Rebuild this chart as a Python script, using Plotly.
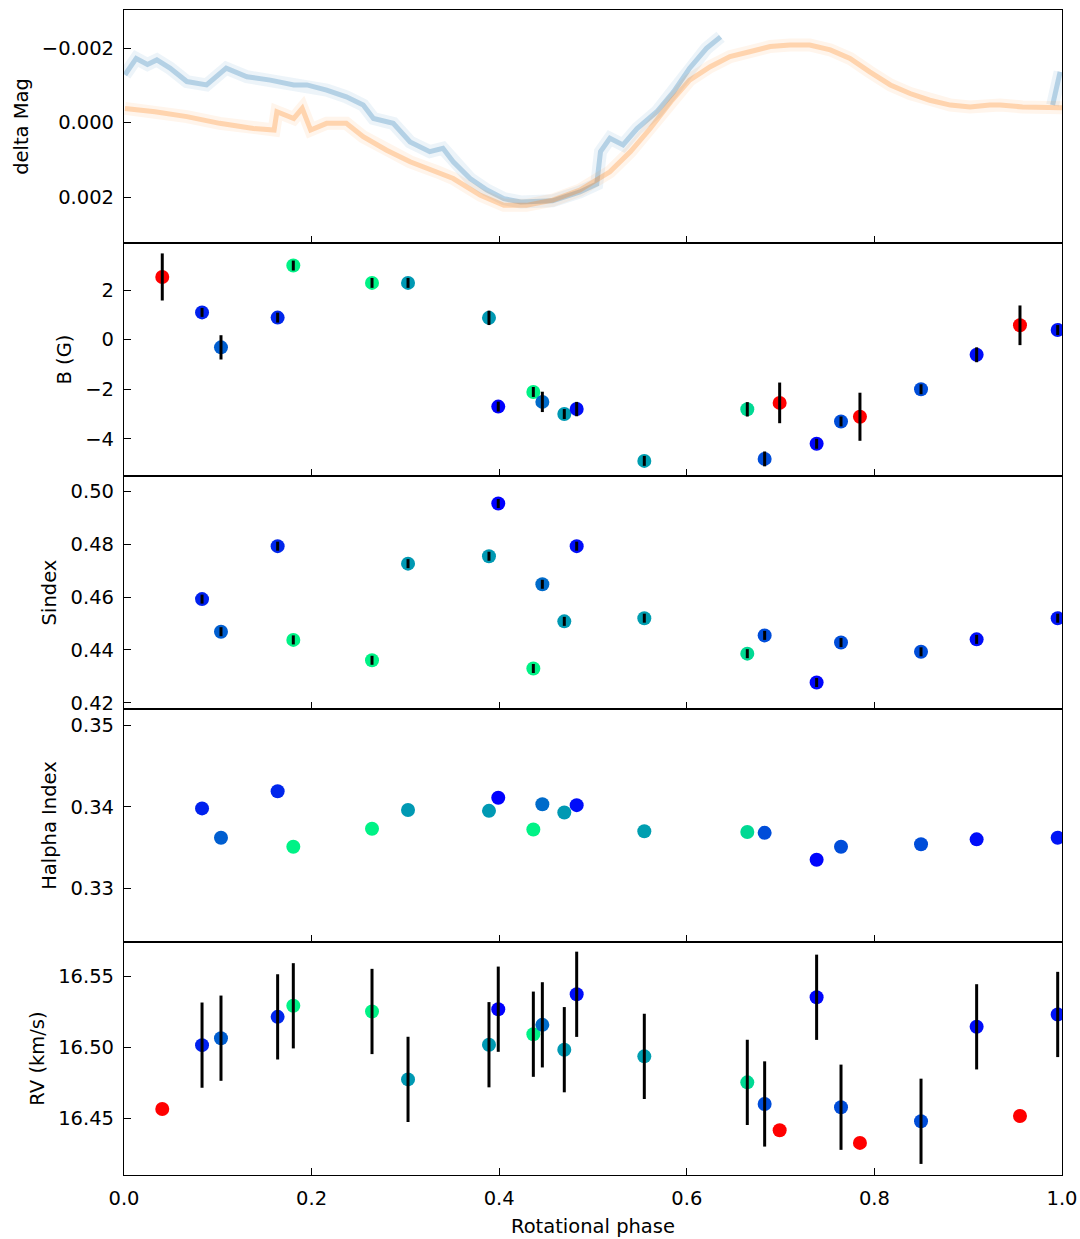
import plotly.graph_objects as go
from plotly.subplots import make_subplots

# ---------------- light curves (phase, delta mag) ----------------
lc_blue_phase = [0.001, 0.013, 0.025, 0.035, 0.049, 0.067, 0.088, 0.109, 0.131, 0.156,
                 0.181, 0.195, 0.216, 0.237, 0.255, 0.266, 0.287, 0.305, 0.326, 0.340,
                 0.351, 0.369, 0.387, 0.405, 0.423, 0.457, 0.486, 0.504, 0.508, 0.518,
                 0.532, 0.547, 0.568, 0.586, 0.603, 0.621, 0.636, None, 0.990, 0.998]
lc_blue_mag = [-0.00128, -0.00172, -0.00156, -0.00168, -0.00146, -0.00110, -0.00101, -0.00146, -0.00123, -0.00114,
               -0.00101, -0.00101, -0.00087, -0.00069, -0.00047, -0.00011, 0.00002, 0.00052, 0.00078, 0.00069,
               0.00105, 0.00150, 0.00181, 0.00204, 0.00213, 0.00210, 0.00186, 0.00165, 0.00078, 0.00042,
               0.00060, 0.00016, -0.00029, -0.00083, -0.00146, -0.00199, -0.00230, None, -0.00047, -0.00136]

lc_orange_phase = [0.001, 0.033, 0.067, 0.102, 0.138, 0.160, 0.163, 0.181, 0.190, 0.199,
                   0.216, 0.237, 0.255, 0.280, 0.305, 0.334, 0.351, 0.380, 0.405, 0.429,
                   0.457, 0.486, 0.497, 0.518, 0.540, 0.561, 0.583, 0.603, 0.625, 0.646,
                   0.667, 0.689, 0.710, 0.731, 0.753, 0.774, 0.795, 0.817, 0.838, 0.859,
                   0.881, 0.902, 0.923, 0.934, 0.958, 0.994, 1.000]
lc_orange_mag = [-0.00038, -0.00029, -0.00016, 0.00002, 0.00016, 0.00020, -0.00029, -0.00011, -0.00038, 0.00020,
                 0.00002, 0.00002, 0.00038, 0.00074, 0.00105, 0.00132, 0.00150, 0.00195, 0.00222, 0.00222,
                 0.00208, 0.00181, 0.00165, 0.00132, 0.00078, 0.00016, -0.00056, -0.00114, -0.00150, -0.00177,
                 -0.00190, -0.00204, -0.00208, -0.00208, -0.00195, -0.00172, -0.00136, -0.00101, -0.00078, -0.00060,
                 -0.00047, -0.00042, -0.00047, -0.00047, -0.00042, -0.00042, -0.00040]

# ---------------- spectroscopic epochs ----------------
phase = [0.0408, 0.0832, 0.1034, 0.1638, 0.1805, 0.2644, 0.3028, 0.3891, 0.3990, 0.4364,
         0.4460, 0.4694, 0.4826, 0.5547, 0.6645, 0.6830, 0.6990, 0.7384, 0.7644, 0.7846,
         0.8497, 0.9090, 0.9552, 0.9954]
flagged = [1, 0, 0, 0, 0, 0, 0, 0, 0, 0,
           0, 0, 0, 0, 0, 0, 1, 0, 0, 1,
           0, 0, 1, 0]
cval = [0.0, 0.13, 0.37, 0.15, 0.95, 0.95, 0.60, 0.60, 0.0, 0.95,
        0.42, 0.60, 0.05, 0.62, 0.85, 0.30, 0.0, 0.02, 0.30, 0.0,
        0.30, 0.05, 0.0, 0.08]

B = [2.53, 1.10, -0.31, 0.89, 2.99, 2.29, 2.29, 0.88, -2.70, -2.11,
     -2.51, -3.00, -2.80, -4.89, -2.81, -4.81, -2.55, -4.20, -3.30, -3.11,
     -2.00, -0.61, 0.58, 0.39]
B_err = [0.95, 0.18, 0.49, 0.20, 0.20, 0.20, 0.20, 0.29, 0.20, 0.20,
         0.41, 0.20, 0.29, 0.20, 0.29, 0.30, 0.82, 0.20, 0.20, 0.97,
         0.20, 0.30, 0.80, 0.20]

sindex = [None, 0.4592, 0.4469, 0.4792, 0.4438, 0.4361, 0.4726, 0.4754, 0.4953, 0.4330,
          0.4648, 0.4508, 0.4792, 0.4520, 0.4386, 0.4455, None, 0.4277, 0.4428, None,
          0.4393, 0.4440, None, 0.4520]
sindex_err = [0.0017] * 24

halpha = [None, 0.3398, 0.3362, 0.3419, 0.3351, 0.3373, 0.3396, 0.3395, 0.3411, 0.3372,
          0.3403, 0.3393, 0.3402, 0.3370, 0.3369, 0.3368, None, 0.3335, 0.3351, None,
          0.3354, 0.3360, None, 0.3362]

rv = [16.4565, 16.5014, 16.5063, 16.5213, 16.5291, 16.5251, 16.4773, 16.5017, 16.5267, 16.5091,
      16.5157, 16.4982, 16.5372, 16.4935, 16.4752, 16.4600, 16.4415, 16.5351, 16.4577, 16.4326,
      16.4478, 16.5143, 16.4515, 16.5230]
rv_err = [0.0, 0.03, 0.03, 0.03, 0.03, 0.03, 0.03, 0.03, 0.03, 0.03,
          0.03, 0.03, 0.03, 0.03, 0.03, 0.03, 0.0, 0.03, 0.03, 0.0,
          0.03, 0.03, 0.0, 0.03]

y_titles = ["delta Mag", "B (G)", "Sindex", "Halpha Index", "RV (km/s)"]
x_title = "Rotational phase"

WINTER = [[0.0, "rgb(0,0,255)"], [1.0, "rgb(0,255,128)"]]
FONT = "DejaVu Sans"
FS = 19.5

fig = make_subplots(rows=5, cols=1, shared_xaxes=True, vertical_spacing=0)

# light curve panel: dense translucent bands
for px, py, col in [(lc_blue_phase, lc_blue_mag, "31,119,180"),
                    (lc_orange_phase, lc_orange_mag, "255,127,14")]:
    fig.add_trace(go.Scatter(x=px, y=py, mode="lines", connectgaps=False,
                             line=dict(color=f"rgba({col},0.08)", width=13),
                             hoverinfo="skip", showlegend=False), row=1, col=1)
    fig.add_trace(go.Scatter(x=px, y=py, mode="lines", connectgaps=False,
                             line=dict(color=f"rgba({col},0.28)", width=5),
                             hoverinfo="skip", showlegend=False), row=1, col=1)

def split(vals):
    good = [v if not f else None for v, f in zip(vals, flagged)]
    bad = [v if f else None for v, f in zip(vals, flagged)]
    return good, bad

panels = [(B, B_err), (sindex, sindex_err), (halpha, None), (rv, rv_err)]
for i, (vals, errs) in enumerate(panels):
    row = i + 2
    good, bad = split(vals)
    fig.add_trace(go.Scatter(x=phase, y=good, mode="markers",
                             marker=dict(size=14, color=cval, colorscale=WINTER, cmin=0, cmax=1,
                                         line=dict(width=0)),
                             showlegend=False), row=row, col=1)
    fig.add_trace(go.Scatter(x=phase, y=bad, mode="markers",
                             marker=dict(size=14, color="#ff0000", line=dict(width=0)),
                             showlegend=False), row=row, col=1)
    if errs is not None:
        fig.add_trace(go.Scatter(x=phase, y=vals, mode="markers",
                                 marker=dict(size=1, color="rgba(0,0,0,0)"),
                                 error_y=dict(type="data", array=errs, visible=True,
                                              color="black", thickness=3, width=0),
                                 hoverinfo="skip", showlegend=False), row=row, col=1)

ranges = [[0.00323, -0.00302], [-5.5, 3.9], [0.4177, 0.5057], [0.3234, 0.352], [16.41, 16.574]]
dticks = [0.002, 2, 0.02, 0.01, 0.05]
fmts = [".3f", "d", ".2f", ".2f", ".2f"]

axis_common = dict(showline=True, linecolor="black", linewidth=1.2, mirror=True,
                   ticks="inside", ticklen=7, tickwidth=1.2, tickcolor="black",
                   showgrid=False, zeroline=False, ticklabelstandoff=5, automargin=False,
                   tickfont=dict(family=FONT, size=FS, color="black"))

for i in range(5):
    top = 1 - i / 5
    bot = 1 - (i + 1) / 5
    fig.update_yaxes(range=ranges[i], dtick=dticks[i], tickformat=fmts[i],
                     domain=[bot, top],
                     title=dict(text=y_titles[i], font=dict(family=FONT, size=FS, color="black"),
                                standoff=8),
                     **axis_common, row=i + 1, col=1)
    fig.update_xaxes(range=[0, 1], dtick=0.2, tick0=0, tickformat=".1f",
                     showticklabels=(i == 4), **axis_common, row=i + 1, col=1)

fig.update_xaxes(title=dict(text=x_title, font=dict(family=FONT, size=FS, color="black"),
                            standoff=10), row=5, col=1)

fig.update_layout(width=1080, height=1239, autosize=False,
                  margin=dict(l=124, r=18, t=10, b=64),
                  plot_bgcolor="white", paper_bgcolor="white",
                  font=dict(family=FONT, size=FS, color="black"))

fig.write_html("out.html",
               config={"responsive": False, "displayModeBar": False},
               post_script="document.body.style.margin='0';document.body.style.overflow='hidden';")
